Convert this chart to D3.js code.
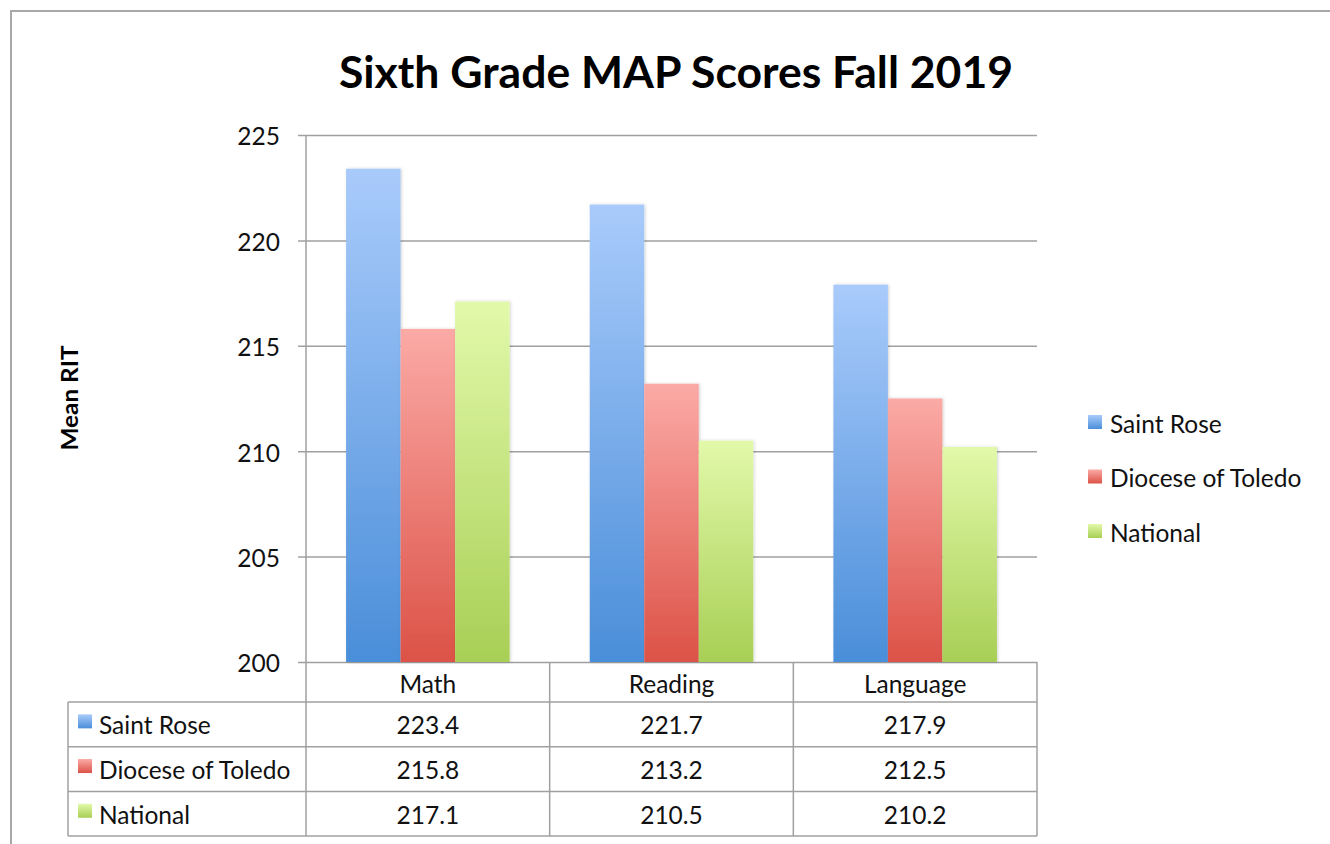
<!DOCTYPE html>
<html>
<head>
<meta charset="utf-8">
<script src="https://cdn.jsdelivr.net/npm/d3@7"></script>
<style>
  body { margin: 0; background: #fff; }
  svg { display: block; font-family: Lato, "Open Sans", sans-serif; }
</style>
</head>
<body>
<div id="chart"></div>
<script>
// chart data
let categories = ["Math", "Reading", "Language"];
let seriesNames = ["Saint Rose", "Diocese of Toledo", "National"];
let saintRose = [223.4, 221.7, 217.9];
let diocese = [215.8, 213.2, 212.5];
let national = [217.1, 210.5, 210.2];
let yTicks = [200, 205, 210, 215, 220, 225];

let seriesValues = [saintRose, diocese, national];

// top and bottom colour of each series gradient
let gradColors = [
    {id: "g0", top: "#a9cbfb", bottom: "#4a8ed9"},
    {id: "g1", top: "#fbaaa6", bottom: "#dc5247"},
    {id: "g2", top: "#e2f9aa", bottom: "#a8cf55"}
];

let width = 1330;
let height = 844;

let plotLeft = 306;
let plotRight = 1037;
let plotTop = 135;
let plotBottom = 662;

let fontSize = 24.5;

let svg = d3.select("#chart")
            .append("svg")
            .attr("width", width)
            .attr("height", height);

let defs = svg.append("defs");

gradColors.forEach(g => {
    let lg = defs.append("linearGradient")
                .attr("id", g.id)
                .attr("x1", 0).attr("y1", 0)
                .attr("x2", 0).attr("y2", 1);
    lg.append("stop").attr("offset", "0%").attr("stop-color", g.top);
    lg.append("stop").attr("offset", "100%").attr("stop-color", g.bottom);
});

let shadow = defs.append("filter")
                .attr("id", "shadow")
                .attr("x", -0.2).attr("y", -0.1)
                .attr("width", 1.4).attr("height", 1.2);
shadow.append("feDropShadow")
        .attr("dx", 1).attr("dy", 0)
        .attr("stdDeviation", 1.5)
        .attr("flood-color", "#000")
        .attr("flood-opacity", 0.18);

// outer frame
svg.append("rect")
    .attr("x", 11)
    .attr("y", 11)
    .attr("width", 1340)
    .attr("height", 860)
    .attr("fill", "none")
    .attr("stroke", "#a8a8a8")
    .attr("stroke-width", 2);

// title
svg.append("text")
    .attr("x", 676)
    .attr("y", 88)
    .attr("text-anchor", "middle")
    .attr("font-size", 44.5)
    .attr("font-weight", "bold")
    .attr("fill", "#000")
    .text("Sixth Grade MAP Scores Fall 2019");

// scales
let yScale = d3.scaleLinear()
                .domain([200, 225])
                .range([plotBottom, plotTop]);

let x0 = d3.scaleBand()
            .domain(categories)
            .range([plotLeft, plotRight])
            .padding(0);

let x1 = d3.scaleBand()
            .domain(seriesNames)
            .range([0, x0.bandwidth()])
            .paddingInner(0)
            .paddingOuter(0.735);

// gridlines + left ticks
let yAxis = d3.axisLeft(yScale)
                .tickValues(yTicks)
                .tickSize(-(plotRight - plotLeft))
                .tickPadding(26)
                .tickFormat(d3.format("d"));

let gy = svg.append("g")
            .attr("transform", "translate(" + plotLeft + ",0)")
            .call(yAxis);

gy.select(".domain").remove();
gy.selectAll(".tick line")
    .attr("x1", -8)
    .attr("stroke", "#a0a0a0")
    .attr("stroke-width", 1.5);
gy.selectAll(".tick text")
    .attr("font-size", fontSize)
    .attr("font-family", "Lato, sans-serif")
    .attr("dy", "0.4em")
    .attr("fill", "#111");

// y axis label
svg.append("text")
    .attr("transform", "translate(78,398) rotate(-90)")
    .attr("text-anchor", "middle")
    .attr("font-size", 22)
    .attr("font-weight", "bold")
    .attr("textLength", 105)
    .attr("lengthAdjust", "spacingAndGlyphs")
    .text("Mean RIT");

// bars
let groups = svg.selectAll(".group")
                .data(categories)
                .enter()
                .append("g")
                .attr("class", "group")
                .attr("transform", d => "translate(" + x0(d) + ",0)");

groups.selectAll("rect")
        .data((d, ci) => seriesNames.map((s, si) => ({series: s, si: si, value: seriesValues[si][ci]})))
        .enter()
        .append("rect")
        .attr("x", d => x1(d.series))
        .attr("y", d => yScale(d.value))
        .attr("width", x1.bandwidth())
        .attr("height", d => plotBottom - yScale(d.value))
        .attr("fill", d => "url(#" + gradColors[d.si].id + ")")
        .attr("filter", "url(#shadow)");

// data table under the axis
let tableLeft = 68;
let headerBottom = 702;
let rowH = 44.7;
let tableBottom = headerBottom + rowH * seriesNames.length;
let gridColor = "#a0a0a0";

let table = svg.append("g");

// header cells
table.selectAll(".hdr")
    .data(categories)
    .enter()
    .append("text")
    .attr("x", d => x0(d) + x0.bandwidth() / 2)
    .attr("y", (plotBottom + headerBottom) / 2)
    .attr("dy", "0.45em")
    .attr("text-anchor", "middle")
    .attr("font-size", fontSize)
    .attr("fill", "#111")
    .text(d => d);

// horizontal lines
let hLines = d3.range(seriesNames.length + 1).map(i => headerBottom + i * rowH);
table.selectAll(".hline")
    .data(hLines)
    .enter()
    .append("line")
    .attr("x1", tableLeft)
    .attr("x2", plotRight)
    .attr("y1", d => d)
    .attr("y2", d => d)
    .attr("stroke", gridColor)
    .attr("stroke-width", 1.5);

// vertical lines
let vLines = [plotLeft].concat(categories.map(c => x0(c) + x0.bandwidth()));
table.selectAll(".vline")
    .data(vLines)
    .enter()
    .append("line")
    .attr("x1", d => d)
    .attr("x2", d => d)
    .attr("y1", d => d === plotLeft ? plotTop : plotBottom)
    .attr("y2", tableBottom)
    .attr("stroke", gridColor)
    .attr("stroke-width", 1.5);

table.append("line")
    .attr("x1", tableLeft)
    .attr("x2", tableLeft)
    .attr("y1", headerBottom)
    .attr("y2", tableBottom)
    .attr("stroke", gridColor)
    .attr("stroke-width", 1.5);

// rows
let rows = table.selectAll(".row")
                .data(seriesNames)
                .enter()
                .append("g")
                .attr("transform", (d, i) => "translate(0," + (headerBottom + i * rowH + rowH / 2) + ")");

rows.append("rect")
    .attr("x", 78)
    .attr("y", -10)
    .attr("width", 14)
    .attr("height", 14)
    .attr("fill", (d, i) => "url(#" + gradColors[i].id + ")");

rows.append("text")
    .attr("x", 99)
    .attr("dy", "0.4em")
    .attr("font-size", fontSize)
    .attr("fill", "#111")
    .text(d => d);

rows.each(function(s, si) {
    d3.select(this).selectAll(".val")
        .data(seriesValues[si])
        .enter()
        .append("text")
        .attr("x", (v, ci) => x0(categories[ci]) + x0.bandwidth() / 2)
        .attr("dy", "0.4em")
        .attr("text-anchor", "middle")
        .attr("font-size", fontSize)
        .attr("fill", "#111")
        .text(v => v.toFixed(1));
});

// legend on the right
let legend = svg.append("g");
let legendItems = legend.selectAll(".item")
                    .data(seriesNames)
                    .enter()
                    .append("g")
                    .attr("transform", (d, i) => "translate(1088," + (423 + i * 54.5) + ")");

legendItems.append("rect")
    .attr("y", -8)
    .attr("width", 14)
    .attr("height", 14)
    .attr("fill", (d, i) => "url(#" + gradColors[i].id + ")");

legendItems.append("text")
    .attr("x", 22)
    .attr("dy", "0.4em")
    .attr("font-size", fontSize)
    .attr("fill", "#111")
    .text(d => d);
</script>
</body>
</html>
